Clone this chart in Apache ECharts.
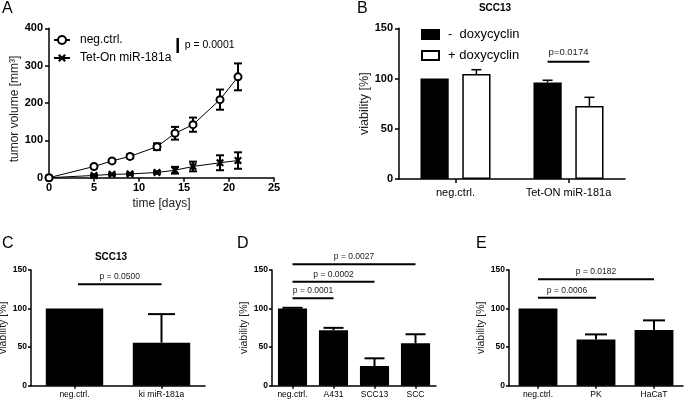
<!DOCTYPE html>
<html><head><meta charset="utf-8">
<script src="https://cdn.jsdelivr.net/npm/echarts@6/dist/echarts.min.js"></script>
<style>html,body{margin:0;padding:0;background:#fff}#c{width:685px;height:400px}</style>
</head><body><div id="c"></div>
<script>
// ---------- Panel A: tumor volume over time ----------
const daysA = [0, 5, 7, 9, 12, 14, 16, 19, 21];
const negCtrlA = [0, 30, 45, 57, 83, 119, 142, 209, 270];
const negCtrlErrA = [0, 3, 4, 5, 9, 17, 19, 27, 36];
const tetOnA = [0, 6, 9, 10, 14, 20, 30, 40, 46];
const tetOnErrA = [0, 2, 2, 2, 3, 9, 13, 20, 22];
const xTicksA = [0, 25, 5];     // min, max, interval
const yTicksA = [0, 400, 100];
const pAnnotA = [[14.3, 334, 374]];
const pTextA = ['p = 0.0001'];
// ---------- Panel B ----------
const catsB = ['neg.ctrl.', 'Tet-ON miR-181a'];
const minusDoxB = [100, 96];
const minusDoxErrB = [0, 2.3];
const plusDoxB = [104.5, 72.7];
const plusDoxErrB = [4.3, 8.6];
const sigB = [[1, 1, 116.8]];
const sigTextB = ['p=0.0174'];
// ---------- Panel C ----------
const catsC = ['neg.ctrl.', 'ki miR-181a'];
const valC = [100, 55.8];
const errC = [0, 37];
const sigC = [[0, 1, 131.5]];
const sigTextC = ['p = 0.0500'];
// ---------- Panel D ----------
const catsD = ['neg.ctrl.', 'A431', 'SCC13', 'SCC'];
const valD = [100, 72, 25.5, 55];
const errD = [1, 3, 10, 11.7];
const sigD = [[0, 1, 113.3], [0, 2, 134.8], [0, 3, 157.4]];
const sigTextD = ['p = 0.0001', 'p = 0.0002', 'p = 0.0027'];
// ---------- Panel E ----------
const catsE = ['neg.ctrl.', 'PK', 'HaCaT'];
const valE = [100, 60, 72.2];
const errE = [0, 6.5, 12.5];
const sigE = [[0, 1, 114], [0, 2, 138]];
const sigTextE = ['p = 0.0006', 'p = 0.0182'];
const yTicksBar = [0, 150, 50];

const FF = '"Liberation Sans", Arial, Helvetica, sans-serif';
const chart = echarts.init(document.getElementById('c'), null, {renderer: 'canvas'});

function axisBase(lw, tickLen) {
  return {
    axisLine: {show: true, onZero: false, lineStyle: {color: '#000', width: lw}},
    axisTick: {show: true, length: tickLen, lineStyle: {color: '#000', width: lw}},
    splitLine: {show: false}
  };
}
function yVal(gi, t, fs, margin, name, nameFs, nameGap, lw, tickLen, namePad) {
  return Object.assign(axisBase(lw, tickLen), {
    type: 'value', gridIndex: gi, min: t[0], max: t[1], interval: t[2],
    axisLabel: {color: '#000', fontWeight: 'bold', fontSize: fs, fontFamily: FF, margin: margin},
    name: name, nameLocation: 'middle', nameGap: nameGap,
    nameTextStyle: {color: '#222', fontSize: nameFs, fontFamily: FF, padding: namePad || 0}
  });
}
function xCat(gi, cats, fs, margin, lw, tickLen) {
  return Object.assign(axisBase(lw, tickLen), {
    type: 'category', gridIndex: gi, data: cats,
    axisTick: {show: true, alignWithLabel: true, length: tickLen, lineStyle: {color: '#000', width: lw}},
    axisLabel: {color: '#000', fontSize: fs, fontFamily: FF, margin: margin, interval: 0}
  });
}
function errSeries(ax, vals, errs, offFrac, capW, lw) {
  return {
    type: 'custom', xAxisIndex: ax, yAxisIndex: ax, z: 5, clip: false, silent: true,
    data: vals.map((v, i) => [i, v, errs[i]]),
    renderItem(params, api) {
      const e = api.value(2);
      if (!e) return null;
      const c = api.coord([api.value(0), api.value(1)]);
      const t = api.coord([api.value(0), api.value(1) + e]);
      const band = api.size([1, 0])[0];
      const x = c[0] + offFrac * band;
      return {type: 'group', children: [
        {type: 'line', shape: {x1: x, y1: c[1], x2: x, y2: t[1]}, style: {stroke: '#000', lineWidth: lw}},
        {type: 'line', shape: {x1: x - capW / 2, y1: t[1], x2: x + capW / 2, y2: t[1]}, style: {stroke: '#000', lineWidth: lw}}
      ]};
    }
  };
}
function sigSeries(ax, data, texts, fs, gap, fromOff, toOff) {
  return {
    type: 'custom', xAxisIndex: ax, yAxisIndex: ax, z: 6, clip: false, silent: true,
    encode: {x: [0, 1], y: 2},
    data: data,
    renderItem(params, api) {
      const y = api.value(2);
      const band = api.size([1, 0])[0];
      const a = api.coord([api.value(0), y]);
      const b = api.coord([api.value(1), y]);
      const x1 = a[0] + fromOff * band, x2 = b[0] + toOff * band;
      return {type: 'group', children: [
        {type: 'line', shape: {x1: x1, y1: a[1], x2: x2, y2: a[1]}, style: {stroke: '#000', lineWidth: 2}},
        {type: 'text', x: (x1 + x2) / 2, y: a[1] - gap,
          style: {text: texts[params.dataIndex], align: 'center', verticalAlign: 'bottom',
            fontSize: fs, fontFamily: FF, fill: '#222'}}
      ]};
    }
  };
}
function errA(ax, xs, ys, errs) {
  return {
    type: 'custom', xAxisIndex: ax, yAxisIndex: ax, z: 1, clip: false, silent: true,
    data: xs.map((x, i) => [x, ys[i], errs[i]]),
    renderItem(params, api) {
      const e = api.value(2);
      if (!e) return null;
      const lo = api.coord([api.value(0), api.value(1) - e]);
      const hi = api.coord([api.value(0), api.value(1) + e]);
      const x = lo[0], w = 4;
      return {type: 'group', children: [
        {type: 'line', shape: {x1: x, y1: lo[1], x2: x, y2: hi[1]}, style: {stroke: '#000', lineWidth: 2}},
        {type: 'line', shape: {x1: x - w, y1: lo[1], x2: x + w, y2: lo[1]}, style: {stroke: '#000', lineWidth: 2}},
        {type: 'line', shape: {x1: x - w, y1: hi[1], x2: x + w, y2: hi[1]}, style: {stroke: '#000', lineWidth: 2}}
      ]};
    }
  };
}

const BW_B = 0.25, GAP_B = 0.48;
const offB = (BW_B + BW_B * GAP_B) / 2;
const xSym = 'path://M2,0 L5,3 L8,0 L10,2 L7,5 L10,8 L8,10 L5,7 L2,10 L0,8 L3,5 L0,2 Z';

const option = {
  animation: false,
  backgroundColor: '#fff',
  textStyle: {fontFamily: FF},
  grid: [
    {left: 49, top: 28.3, width: 225, height: 149.4, outerBoundsMode: 'none'},
    {left: 399, top: 28.3, width: 226, height: 150.7, outerBoundsMode: 'none'},
    {left: 31, top: 270, width: 174, height: 115.7, outerBoundsMode: 'none'},
    {left: 272, top: 270, width: 164, height: 115.7, outerBoundsMode: 'none'},
    {left: 509, top: 270, width: 174, height: 115.7, outerBoundsMode: 'none'}
  ],
  xAxis: [
    Object.assign(axisBase(1.5, 4), {
      type: 'value', gridIndex: 0, min: xTicksA[0], max: xTicksA[1], interval: xTicksA[2],
      axisLabel: {color: '#000', fontWeight: 'bold', fontSize: 11, fontFamily: FF, margin: 5},
      name: 'time [days]', nameLocation: 'middle', nameGap: 20,
      nameTextStyle: {color: '#222', fontSize: 12, fontFamily: FF}
    }),
    xCat(1, catsB, 11, 8, 1.5, 4),
    xCat(2, catsC, 8.5, 4, 1.5, 3),
    xCat(3, catsD, 8.5, 4, 1.5, 3),
    xCat(4, catsE, 8.5, 4, 1.5, 3)
  ],
  yAxis: [
    yVal(0, yTicksA, 11, 6, 'tumor volume [mm³]', 12, 26, 1.5, 4, [0, 12, 0, 0]),
    yVal(1, yTicksBar, 11, 6, 'viability [%]', 12.5, 27, 1.5, 4),
    yVal(2, yTicksBar, 8.5, 4, 'viability [%]', 10.5, 22, 1.5, 3),
    yVal(3, yTicksBar, 8.5, 4, 'viability [%]', 10.5, 20, 1.5, 3),
    yVal(4, yTicksBar, 8.5, 4, 'viability [%]', 10.5, 19, 1.5, 3)
  ],
  legend: [
    {data: ['neg.ctrl.', 'Tet-On miR-181a'], orient: 'vertical', left: 53, top: 34, padding: 0,
      itemWidth: 16, itemHeight: 10, itemGap: 6, selectedMode: false,
      textStyle: {fontSize: 12, color: '#000', fontFamily: FF, padding: [0, 0, 0, 5]}},
    {data: ['-  doxycyclin', '+ doxycyclin'], orient: 'vertical', left: 421, top: 28, padding: 0,
      icon: 'rect', itemWidth: 17, itemHeight: 9, itemGap: 8, selectedMode: false,
      textStyle: {fontSize: 13, color: '#000', fontFamily: FF, padding: [0, 0, 0, 4]}}
  ],
  graphic: [
    {type: 'text', x: 2, y: 1, style: {text: 'A', fontSize: 16, fontFamily: FF, fill: '#000', align: 'left', verticalAlign: 'top'}},
    {type: 'text', x: 357, y: 1, style: {text: 'B', fontSize: 16, fontFamily: FF, fill: '#000', align: 'left', verticalAlign: 'top'}},
    {type: 'text', x: 2, y: 236, style: {text: 'C', fontSize: 16, fontFamily: FF, fill: '#000', align: 'left', verticalAlign: 'top'}},
    {type: 'text', x: 237, y: 236, style: {text: 'D', fontSize: 16, fontFamily: FF, fill: '#000', align: 'left', verticalAlign: 'top'}},
    {type: 'text', x: 476, y: 236, style: {text: 'E', fontSize: 16, fontFamily: FF, fill: '#000', align: 'left', verticalAlign: 'top'}},
    {type: 'text', x: 495, y: 8.5, style: {text: 'SCC13', fontSize: 10, fontWeight: 'bold', fontFamily: FF, fill: '#000', align: 'center', verticalAlign: 'middle'}},
    {type: 'text', x: 111, y: 257, style: {text: 'SCC13', fontSize: 10, fontWeight: 'bold', fontFamily: FF, fill: '#000', align: 'center', verticalAlign: 'middle'}}
  ],
  series: [
    // Panel A
    errA(0, daysA, negCtrlA, negCtrlErrA),
    errA(0, daysA, tetOnA, tetOnErrA),
    {type: 'line', name: 'Tet-On miR-181a', xAxisIndex: 0, yAxisIndex: 0, z: 3,
      data: daysA.map((d, i) => [d, tetOnA[i]]),
      symbol: xSym, symbolSize: 8, itemStyle: {color: '#000'},
      lineStyle: {color: '#000', width: 1}},
    {type: 'line', name: 'neg.ctrl.', xAxisIndex: 0, yAxisIndex: 0, z: 4,
      data: daysA.map((d, i) => [d, negCtrlA[i]]),
      symbol: 'circle', symbolSize: 7, itemStyle: {color: '#fff', borderColor: '#000', borderWidth: 2},
      lineStyle: {color: '#000', width: 1}},
    {type: 'custom', xAxisIndex: 0, yAxisIndex: 0, z: 6, clip: false, silent: true,
      encode: {x: 0, y: [1, 2]},
      data: pAnnotA,
      renderItem(params, api) {
        const a = api.coord([api.value(0), api.value(1)]);
        const b = api.coord([api.value(0), api.value(2)]);
        return {type: 'group', children: [
          {type: 'line', shape: {x1: a[0], y1: a[1], x2: b[0], y2: b[1]}, style: {stroke: '#000', lineWidth: 2.5}},
          {type: 'text', x: a[0] + 7, y: (a[1] + b[1]) / 2,
            style: {text: pTextA[params.dataIndex], align: 'left', verticalAlign: 'middle', fontSize: 10.5, fontFamily: FF, fill: '#000'}}
        ]};
      }},
    // Panel B
    {type: 'bar', name: '-  doxycyclin', xAxisIndex: 1, yAxisIndex: 1, data: minusDoxB,
      barWidth: (BW_B * 100) + '%', barGap: (GAP_B * 100) + '%',
      itemStyle: {color: '#000', borderColor: '#000', borderWidth: 1.5}},
    {type: 'bar', name: '+ doxycyclin', xAxisIndex: 1, yAxisIndex: 1, data: plusDoxB,
      barWidth: (BW_B * 100) + '%', barGap: (GAP_B * 100) + '%',
      itemStyle: {color: '#fff', borderColor: '#000', borderWidth: 1.5}},
    errSeries(1, minusDoxB, minusDoxErrB, -offB, 10, 1.5),
    errSeries(1, plusDoxB, plusDoxErrB, offB, 10, 1.5),
    sigSeries(1, sigB, sigTextB, 9.5, 4, -offB, offB),
    // Panel C
    {type: 'bar', xAxisIndex: 2, yAxisIndex: 2, data: valC, barWidth: '66%', itemStyle: {color: '#000'}},
    errSeries(2, valC, errC, 0, 27, 2),
    sigSeries(2, sigC, sigTextC, 8.5, 3, 0.04, 0),
    // Panel D
    {type: 'bar', xAxisIndex: 3, yAxisIndex: 3, data: valD, barWidth: '71%', itemStyle: {color: '#000'}},
    errSeries(3, valD, errD, 0, 20, 2),
    sigSeries(3, sigD, sigTextD, 8.5, 3, 0, 0),
    // Panel E
    {type: 'bar', xAxisIndex: 4, yAxisIndex: 4, data: valE, barWidth: '67%', itemStyle: {color: '#000'}},
    errSeries(4, valE, errE, 0, 22, 2),
    sigSeries(4, sigE, sigTextE, 8.5, 3, 0, 0)
  ]
};
chart.setOption(option);
</script>
</body></html>
